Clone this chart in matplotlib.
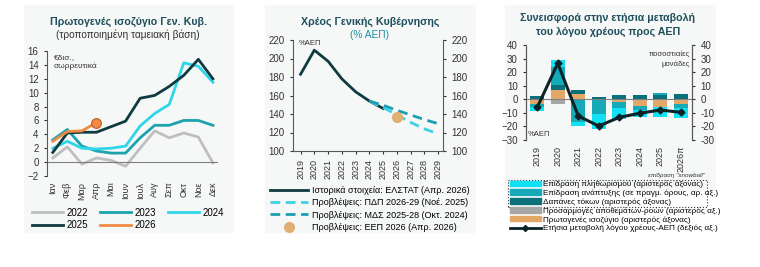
import numpy as np
import matplotlib
matplotlib.use("Agg")
import matplotlib.pyplot as plt
from matplotlib.patches import Rectangle, Patch
from matplotlib.lines import Line2D

plt.rcParams["font.family"] = ["Liberation Sans", "DejaVu Sans"]

# --- panel 1: primary balance, cumulative (EUR bn)
months = ["Ιαν", "Φεβ", "Μαρ", "Απρ", "Μαι", "Ιουν", "Ιουλ", "Αυγ", "Σεπ", "Οκτ", "Νοε", "Δεκ"]
pb_2022 = [0.6, 2.2, -0.3, 0.6, 0.25, -0.6, 2.0, 4.5, 3.5, 4.2, 3.6, -0.1]
pb_2023 = [3.2, 4.7, 2.3, 1.6, 1.3, 1.3, 3.5, 5.3, 5.3, 6.0, 6.0, 5.3]
pb_2024 = [2.0, 3.0, 2.0, 1.9, 2.0, 2.3, 5.2, 7.0, 8.3, 14.3, 13.8, 11.5]
pb_2025 = [1.4, 4.2, 4.3, 4.3, 5.1, 5.9, 9.2, 9.6, 10.9, 12.5, 14.8, 12.0]
pb_2026 = [3.0, 4.4, 4.5, 5.7]

# --- panel 2: general government debt (% GDP)
debt_years = [2019, 2020, 2021, 2022, 2023, 2024, 2025]
debt_hist = [183, 209, 197, 178, 164, 154, 146]
pdp_years = [2024, 2025, 2026, 2027, 2028, 2029]
pdp_fc = [154, 147, 139, 131, 124, 118.5]
mds_years = [2024, 2025, 2026, 2027, 2028, 2029]
mds_fc = [154, 149.5, 144, 139, 134, 129.5]
eep_year = [2026]
eep_fc = [137]

# --- panel 3: contributions to the annual change of debt ratio
years3 = ["2019", "2020", "2021", "2022", "2023", "2024", "2025", "2026π"]
inflation = [-3.0, 5.0, -3.0, -11.0, -8.0, -5.0, -7.5, -7.9]
growth = [-2.5, 13.5, -16.5, -11.0, -5.0, -3.2, 1.2, -2.7]
interest = [2.5, 3.7, 2.5, 2.0, 3.2, 3.2, 3.2, 3.7]
adjustments = [0.0, -3.7, 0.0, 0.0, 0.0, 0.0, 0.0, 0.0]
primary = [-3.4, 6.9, 4.2, 0.0, -1.7, -4.7, -5.4, -3.4]
debt_change = [-5.9, 26.5, -12.3, -19.7, -13.3, -10.3, -7.9, -9.6]

W, H = 760, 267
TITLE = "#1E4F5C"
TXT = "#333333"
C22, C23, C24, C25, C26 = "#BFBFBF", "#1BA3AE", "#2FD5E8", "#0E3B40", "#F08A45"
C_INF, C_GRO, C_INT, C_ADJ, C_PRI = "#12E1F5", "#16A9B8", "#0A707A", "#A6A6A6", "#E3A868"
TSIZE = 7.7


def px_axes(fig, x0, y0, x1, y1):
    """axes from pixel box (top-left origin)"""
    return fig.add_axes([x0 / W, 1 - y1 / H, (x1 - x0) / W, (y1 - y0) / H])


def style_ticks(ax):
    ax.tick_params(labelsize=7, colors=TXT, length=2.5, width=0.8)


fig = plt.figure(figsize=(W / 100, H / 100), dpi=100)
for x0, y0, x1, y1 in [(24, 5, 233, 232), (265, 5, 475, 232), (505, 5, 715, 190)]:
    fig.patches.append(Rectangle((x0 / W, 1 - y1 / H), (x1 - x0) / W, (y1 - y0) / H,
                                 transform=fig.transFigure, color="#F6F7F7", zorder=-10))

# ---------------- panel 1
ax1 = px_axes(fig, 47, 51, 218, 176)
ax1.set_facecolor("none")
x = np.arange(len(months))
l22, = ax1.plot(x, pb_2022, color=C22, lw=2)
l23, = ax1.plot(x, pb_2023, color=C23, lw=2)
l24, = ax1.plot(x, pb_2024, color=C24, lw=2)
l25, = ax1.plot(x, pb_2025, color=C25, lw=2)
l26, = ax1.plot(x[:len(pb_2026)], pb_2026, color=C26, lw=2)
ax1.plot(x[len(pb_2026) - 1], pb_2026[-1], "o", ms=7, color=C26, mec="#C05A20", mew=0.8)
ax1.axhline(0, color="#7F7F7F", lw=0.8)
ax1.set_ylim(-2, 16)
ax1.set_yticks(range(-2, 17, 2))
ax1.set_xlim(-0.4, 11.35)
ax1.set_xticks(x)
ax1.set_xticklabels(months, rotation=90)
for s in ["top", "right", "bottom"]:
    ax1.spines[s].set_visible(False)
ax1.spines["left"].set_color("#595959")
style_ticks(ax1)
ax1.tick_params(axis="x", length=0, pad=4, labelsize=6.5)
ax1.text(0.08, 15.6, "€δισ.,\nσωρρευτικά", fontsize=6, color=TXT, va="top", linespacing=1.4)
fig.text(128 / W, 1 - 22 / H, "Πρωτογενές ισοζύγιο Γεν. Κυβ.", ha="center", va="center",
         fontsize=TSIZE, fontweight="bold", color=TITLE)
fig.text(128 / W, 1 - 35 / H, "(τροποποιημένη ταμειακή βάση)", ha="center", va="center",
         fontsize=7.3, color=TXT)
fig.legend([l22, l25, l23, l26, l24], ["2022", "2025", "2023", "2026", "2024"], ncol=3,
           loc="center", bbox_to_anchor=(128 / W, 1 - 219 / H), frameon=False, fontsize=7,
           handlelength=3.2, columnspacing=1.2, handletextpad=0.4, labelspacing=0.3)

# ---------------- panel 2
ax2 = px_axes(fig, 293, 40, 443, 151)
ax2.set_facecolor("none")
h_hist, = ax2.plot(debt_years, debt_hist, color=C25, lw=2)
h_pdp, = ax2.plot(pdp_years, pdp_fc, color="#3CD3E6", lw=2, ls=(0, (3.5, 2)))
h_mds, = ax2.plot(mds_years, mds_fc, color="#1AA0B0", lw=2, ls=(0, (3.5, 2)))
h_eep, = ax2.plot(eep_year, eep_fc, "o", ms=7, color="#E0B070", ls="none")
ax2.set_ylim(100, 220)
ax2.set_yticks(range(100, 221, 20))
ax2.set_xlim(2018.45, 2029.35)
ax2.set_xticks(range(2019, 2030))
ax2.set_xticklabels([str(y) for y in range(2019, 2030)], rotation=90)
ax2.spines["top"].set_visible(False)
for s in ["left", "right", "bottom"]:
    ax2.spines[s].set_color("#595959")
ax2.tick_params(axis="y", right=True, labelright=True)
style_ticks(ax2)
ax2.tick_params(axis="x", labelsize=6.5)
ax2.text(2018.9, 216, "%ΑΕΠ", fontsize=5.5, color=TXT, va="center")
fig.text(370 / W, 1 - 22 / H, "Χρέος Γενικής Κυβέρνησης", ha="center", va="center",
         fontsize=TSIZE, fontweight="bold", color=TITLE)
fig.text(370 / W, 1 - 35 / H, "(% ΑΕΠ)", ha="center", va="center", fontsize=7.3, color="#1A8F9C")
fig.legend([h_hist, h_pdp, h_mds, h_eep],
           ["Ιστορικά στοιχεία: ΕΛΣΤΑΤ (Απρ. 2026)", "Προβλέψεις: ΠΔΠ 2026-29 (Νοέ. 2025)",
            "Προβλέψεις: ΜΔΣ 2025-28 (Οκτ. 2024)", "Προβλέψεις: ΕΕΠ 2026 (Απρ. 2026)"],
           loc="center", bbox_to_anchor=(370 / W, 1 - 209 / H), frameon=False, fontsize=6.5,
           handlelength=4.2, handletextpad=0.4, labelspacing=0.35)

# ---------------- panel 3
ax3 = px_axes(fig, 526, 45, 692, 140)
ax3.set_facecolor("none")
x3 = np.arange(len(years3))
pos_base = np.zeros(len(years3))
neg_base = np.zeros(len(years3))
for vals, col in [(primary, C_PRI), (adjustments, C_ADJ), (interest, C_INT),
                  (growth, C_GRO), (inflation, C_INF)]:
    v = np.array(vals)
    pos = np.where(v > 0, v, 0)
    neg = np.where(v < 0, v, 0)
    ax3.bar(x3, pos, bottom=pos_base, width=0.68, color=col, lw=0)
    ax3.bar(x3, neg, bottom=neg_base, width=0.68, color=col, lw=0)
    pos_base += pos
    neg_base += neg
ax3.axhline(0, color="#7F7F7F", lw=0.8, zorder=1)
ax3r = ax3.twinx()
ax3r.plot(x3, debt_change, color="#0B2226", lw=2.2, marker="D", ms=3.5)
for a in (ax3, ax3r):
    a.set_ylim(-30, 40)
    a.set_yticks(range(-30, 41, 10))
    a.set_xlim(-0.55, 7.55)
    for s in ["top", "bottom"]:
        a.spines[s].set_visible(False)
    a.spines["left"].set_color("#595959")
    a.spines["right"].set_color("#595959")
    style_ticks(a)
ax3r.set_yticklabels([str(v) for v in range(-30, 41, 10)])
ax3.set_xticks(x3)
ax3.set_xticklabels(years3, rotation=90)
ax3.tick_params(axis="x", length=0, pad=4, labelsize=6.5)
ax3.text(-0.45, -26, "%ΑΕΠ", fontsize=5.5, color=TXT, va="center")
ax3r.text(7.45, 36, "ποσοστιαίες\nμονάδες", fontsize=5.5, color=TXT, ha="right", va="top",
          linespacing=1.5)
fig.text(608 / W, 1 - 18 / H, "Συνεισφορά στην ετήσια μεταβολή", ha="center", va="center",
         fontsize=TSIZE, fontweight="bold", color=TITLE)
fig.text(608 / W, 1 - 32 / H, "του λόγου χρέους προς ΑΕΠ", ha="center", va="center",
         fontsize=TSIZE, fontweight="bold", color=TITLE)
fig.text(705 / W, 1 - 176 / H, "επίδραση \"snowball\"", ha="right", va="center",
         fontsize=4.5, style="italic", color=TXT)
handles3 = [Patch(color=C_INF), Patch(color=C_GRO), Patch(color=C_INT), Patch(color=C_ADJ),
            Patch(color=C_PRI), Line2D([], [], color="#0B2226", lw=2, marker="D", ms=3)]
labels3 = ["Επίδραση πληθωρισμού (αριστερός άξονας)",
           "Επίδραση ανάπτυξης (σε πραγμ. όρους, αρ. αξ.)",
           "Δαπάνες τόκων (αριστερός άξονας)",
           "Προσαρμογές αποθεμάτων-ροών (αριστερός αξ.)",
           "Πρωτογενές ισοζύγιο (αριστερός άξονας)",
           "Ετήσια μεταβολή λόγου χρέους-ΑΕΠ (δεξιός αξ.)"]
fig.legend(handles3, labels3, loc="upper left", bbox_to_anchor=(508 / W, 1 - 179 / H),
           frameon=False, fontsize=5.9, handlelength=3.8, handleheight=0.65,
           handletextpad=0.3, labelspacing=0.15, borderaxespad=0, borderpad=0.2)
fig.patches.append(Rectangle((508 / W, 1 - 207 / H), 199 / W, 27 / H, transform=fig.transFigure,
                             fill=False, ls=":", lw=0.8, ec="#333333"))

fig.savefig("out.png", dpi=100, facecolor="white")
